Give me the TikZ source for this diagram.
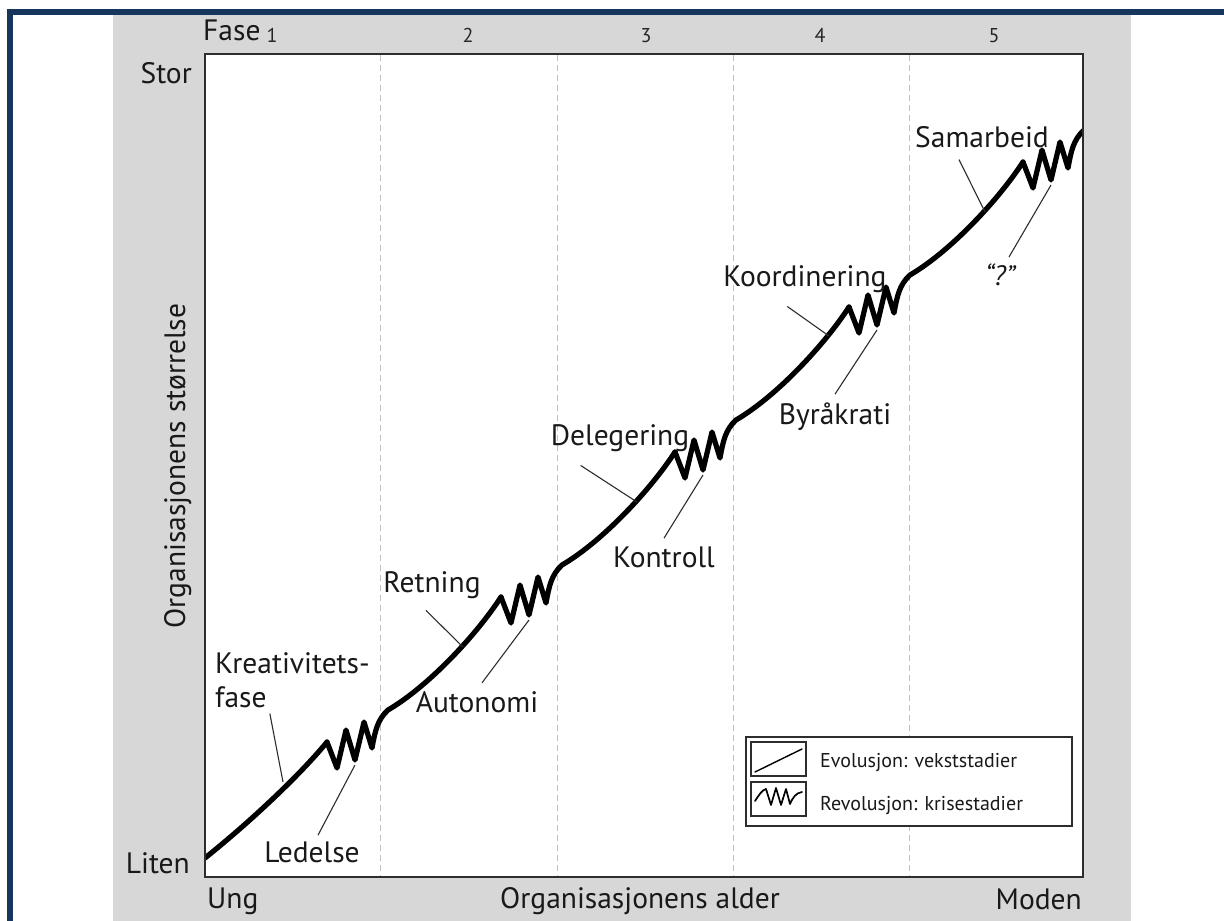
\documentclass[tikz,border=0pt]{standalone}
\usepackage{fontspec}
\setmainfont{PT Sans}
\usetikzlibrary{calc}
\definecolor{framenavy}{RGB}{22,54,94}
\definecolor{panelgrey}{RGB}{215,215,215}
\definecolor{boxline}{RGB}{45,45,45}
\tikzset{
  growth/.style={line width=5.2pt, line cap=round, line join=round, black},
  leader/.style={line width=1.1pt, boxline},
  phaseline/.style={line width=0.8pt, gray!50, dash pattern=on 6pt off 4pt},
  axislabel/.style={font=\fontsize{29.5}{33}\selectfont, text=black!90, inner sep=0pt, anchor=base},
  stagelabel/.style={font=\fontsize{29.5}{34}\selectfont, text=black!90, inner sep=0pt, anchor=base},
  phasenum/.style={font=\fontsize{20}{23}\selectfont, text=black!85, inner sep=0pt, anchor=base},
  legendtext/.style={font=\fontsize{20}{23}\selectfont, text=black!90, inner sep=0pt, anchor=base west},
  keybox/.style={draw=boxline, line width=1.1pt},
}
\begin{document}
\begin{tikzpicture}[x=1pt, y=-1pt]
\useasboundingbox (0,0) rectangle (1224,921);
% frame and panel
\fill[framenavy] (7,9) rectangle (1224,15);
\fill[framenavy] (7,9) rectangle (13,921);
\fill[panelgrey] (113,15) rectangle (1131,921);
\fill[white] (205,54) rectangle (1083,877);
% phase separators
\foreach \px in {380,557,733,909}
  \draw[phaseline] (\px,55) -- (\px,876);
% growth curve: a crisis zigzag at the start of each phase, then evolution to the next
\begin{scope}
\clip (205,54) rectangle (1083,877);
\draw[growth] (205,858) .. controls (250,822) and (300,775) .. (327,742);
\foreach \px/\py in {327/742, 501/597, 675/452, 849/307, 1023/162}
  \draw[growth, shift={(\px,\py)}] (0,0) -- (10,26) -- (19,-12) -- (28,18) -- (37,-20) -- (45,6)
     .. controls (48,-10) and (50,-22) .. (61,-32)
     .. controls (102,-56) and (150,-108) .. (174,-145);
\end{scope}
\draw[line width=1.4pt, boxline] (205,54) rectangle (1083,877);
% axis texts
\node[axislabel, anchor=base west] (fase) at (203,40) {Fase};
\node[phasenum] (p1) at (272,42) {1};
\node[phasenum] (p2) at (468,42) {2};
\node[phasenum] (p3) at (646,42) {3};
\node[phasenum] (p4) at (820,42) {4};
\node[phasenum] (p5) at (994,42) {5};
\node[axislabel, anchor=base east] (stor) at (192,83) {Stor};
\node[axislabel, anchor=base east] (liten) at (190,873) {Liten};
\node[axislabel, anchor=base west] (ung) at (207,908) {Ung};
\node[axislabel] (alder) at (640,908) {Organisasjonens alder};
\node[axislabel, anchor=base east] (moden) at (1082,909) {Moden};
\node[axislabel, rotate=90] (size) at (185,466) {Organisasjonens størrelse};
% stage labels
\node[stagelabel, anchor=base west] (kreat) at (215,673) {Kreativitets-};
\node[stagelabel, anchor=base west] (kreatb) at (215,707) {fase};
\node[stagelabel] (ledelse) at (312,862) {Ledelse};
\node[stagelabel] (retning) at (432,592) {Retning};
\node[stagelabel] (autonomi) at (477,712) {Autonomi};
\node[stagelabel] (deleg) at (620,445) {Delegering};
\node[stagelabel] (kontroll) at (664,567) {Kontroll};
\node[stagelabel] (koord) at (805,286) {Koordinering};
\node[stagelabel] (byrak) at (835,424) {Byråkrati};
\node[stagelabel] (samarb) at (982,147) {Samarbeid};
\node[stagelabel, font=\fontsize{28}{32}\selectfont\itshape] (quest) at (1000,285) {“?”};
% leader ends on the curve
\coordinate (kreatEnd) at (283,782);
\coordinate (ledelseEnd) at (355,765);
\coordinate (retningEnd) at (463,647);
\coordinate (autonomiEnd) at (529,620);
\coordinate (delegEnd) at (637,502);
\coordinate (kontrollEnd) at (703,475);
\coordinate (koordEnd) at (829,336);
\coordinate (byrakEnd) at (877,330);
\coordinate (samarbEnd) at (985,212);
\coordinate (questEnd) at (1051,185);
\draw[leader] ($(kreatb.south east)+(3,6)$) -- (kreatEnd);
\draw[leader] ($(ledelse.north)+(6,-6)$) -- (ledelseEnd);
\draw[leader] ($(retning.south)+(-6,12)$) -- (retningEnd);
\draw[leader] ($(autonomi.north)+(5,-8)$) -- (autonomiEnd);
\draw[leader] ($(deleg.south west)+(30,14)$) -- (delegEnd);
\draw[leader] ($(kontroll.north)+(0,-8)$) -- (kontrollEnd);
\draw[leader] ($(koord.south west)+(64,14)$) -- (koordEnd);
\draw[leader] ($(byrak.north)+(0,-8)$) -- (byrakEnd);
\draw[leader] ($(samarb.south west)+(44,12)$) -- (samarbEnd);
\draw[leader] ($(quest.north)+(9,-6)$) -- (questEnd);
% legend
\draw[line width=1.2pt, boxline, fill=white] (746,737) rectangle (1072,826);
\draw[keybox] (751,742) rectangle (806,776);
\draw[keybox] (751,782) rectangle (806,816);
\coordinate (evoA) at (755,772);
\coordinate (evoB) at (802,749);
\draw[line width=1.4pt, line cap=round] (evoA) -- (evoB);
\draw[line width=1.7pt, line join=round, line cap=round] (755,801) .. controls (759,795) and (762,790) .. (766,789)
   -- (771,805) -- (776,788) -- (781,805) -- (786,789) -- (790,804)
   .. controls (793,797) and (796,793) .. (802,792);
\node[legendtext] (evotext) at (820,767) {Evolusjon: vekststadier};
\node[legendtext] (revtext) at (820,810) {Revolusjon: krisestadier};
\end{tikzpicture}
\end{document}
